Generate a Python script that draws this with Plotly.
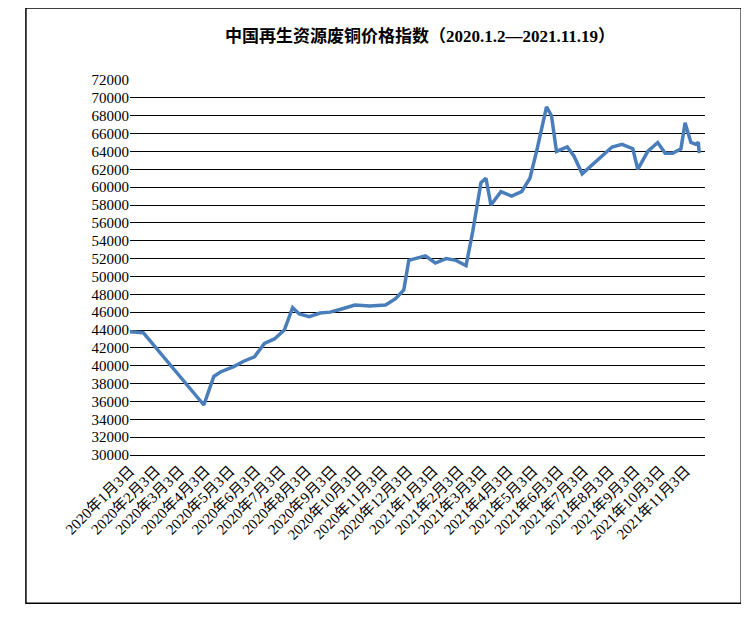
import plotly.graph_objects as go

dates = ["2020-01-03","2020-01-19","2020-04-01","2020-04-13","2020-04-21","2020-05-07","2020-05-19","2020-06-01",
"2020-06-13","2020-06-25","2020-07-07","2020-07-17","2020-07-25","2020-08-06","2020-08-19","2020-08-31","2020-09-12",
"2020-09-30","2020-10-18","2020-11-06","2020-11-18","2020-11-28","2020-12-04","2020-12-12","2020-12-24","2021-01-05",
"2021-01-18","2021-01-30","2021-02-11","2021-02-19","2021-03-01","2021-03-07","2021-03-13","2021-03-25","2021-04-07",
"2021-04-19","2021-04-29","2021-05-07","2021-05-19","2021-05-25","2021-05-31","2021-06-13","2021-06-21","2021-07-01",
"2021-07-13","2021-07-25","2021-08-06","2021-08-18","2021-08-31","2021-09-06","2021-09-18","2021-09-30","2021-10-09",
"2021-10-18","2021-10-28","2021-11-02","2021-11-09","2021-11-15","2021-11-18","2021-11-19"]
values = [43800,43700,35600,38800,39300,39900,40500,41000,42500,43000,44000,46500,45800,45500,45900,46000,46300,
46800,46700,46800,47500,48500,51800,52000,52300,51500,52000,51800,51200,55000,60500,61000,58000,59500,59000,
59500,61000,64000,69000,68000,64000,64500,63500,61500,62500,63500,64500,64800,64300,62000,64000,65000,63800,
63800,64300,67200,65000,64800,65000,63800]

tick_vals = ["2020-%02d-03" % m for m in range(1, 13)] + ["2021-%02d-03" % m for m in range(1, 12)]
tick_text = ["2020年%d月3日" % m for m in range(1, 13)] + ["2021年%d月3日" % m for m in range(1, 12)]

font = "Liberation Serif, Noto Sans CJK SC"
fig = go.Figure(go.Scatter(x=dates, y=values, mode="lines", line=dict(color="#4a7ebb", width=3.5)))
fig.update_layout(
    width=749, height=617, margin=dict(l=122, r=52, t=72, b=170),
    plot_bgcolor="white", paper_bgcolor="white", showlegend=False,
    font=dict(family=font, color="black", size=14),
    title=dict(text="<b>中国再生资源废铜价格指数（2020.1.2—2021.11.19）</b>", x=0.55, xanchor="center",
               y=0.955, yanchor="middle", font=dict(size=17, family=font)),
    shapes=[dict(type="rect", xref="paper", yref="paper", x0=-0.181, x1=1.063, y0=-0.395, y1=1.192,
                 line=dict(color="black", width=1.5))],
)
fig.update_yaxes(range=[30000, 72000], dtick=2000, tickformat="d", showgrid=True, gridcolor="black", gridwidth=1,
                 showline=False, zeroline=False, tickfont=dict(size=15), ticks="")
fig.update_xaxes(type="date", range=["2020-01-03", "2021-11-26"], tickvals=tick_vals, ticktext=tick_text,
                 tickangle=-45, showgrid=False, showline=True, linecolor="black", tickfont=dict(size=15))
fig.write_html("out.html")
